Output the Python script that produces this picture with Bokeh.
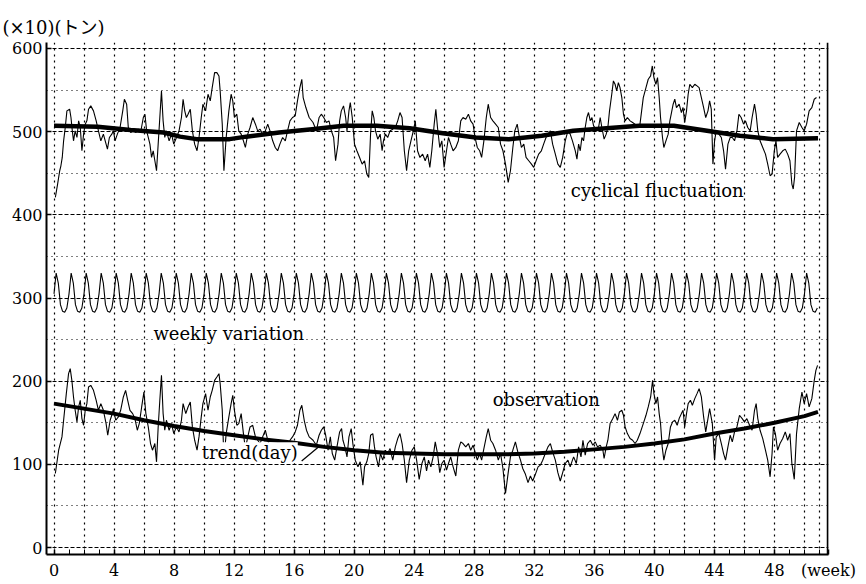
from bokeh.plotting import figure
from bokeh.models import FixedTicker, Grid, Label, Span, Arrow
from bokeh.embed import file_html
from bokeh.resources import INLINE
import numpy as np

# ---------------- data ----------------
x_ticks = [0, 4, 8, 12, 16, 20, 24, 28, 32, 36, 40, 44, 48]
x_minor = list(range(0, 52))
x_grid = list(range(0, 52, 2)) + [51]
y_ticks = [0, 100, 200, 300, 400, 500, 600]
y_half = [50, 150, 250, 350, 450, 550]
x_end = 51.6
x_unit_label = "(week)"
y_unit_label = "(×10)(トン)"

# observation (week, value)
obs_week = [0.09,0.31,0.53,0.64,0.82,0.97,1.08,1.19,1.30,1.41,1.53,1.64,1.75,1.86,1.97,2.08,2.19,2.30,2.45,2.63,2.81,2.96,3.12,3.29,3.47,3.58,3.74,3.85,3.96,4.11,4.29,4.44,4.62,4.77,4.91,5.06,5.24,5.39,5.55,5.68,5.84,5.99,6.12,6.28,6.43,6.56,6.72,6.83,6.94,7.05,7.16,7.27,7.38,7.49,7.67,7.83,7.98,8.16,8.33,8.49,8.60,8.78,8.93,9.08,9.22,9.37,9.53,9.66,9.81,9.92,10.10,10.26,10.41,10.54,10.70,10.85,10.99,11.07,11.21,11.32,11.47,11.65,11.80,11.91,12.02,12.18,12.31,12.47,12.62,12.75,12.91,13.06,13.24,13.42,13.57,13.73,13.90,14.08,14.24,14.39,14.57,14.74,14.90,15.05,15.23,15.41,15.56,15.72,15.89,16.07,16.22,16.38,16.51,16.67,16.82,17.00,
            17.26,17.48,17.66,17.81,17.97,18.10,18.26,18.41,18.54,18.70,18.85,19.03,19.16,19.25,19.38,19.52,19.65,19.80,19.91,20.07,20.25,20.40,20.58,20.69,20.84,20.97,21.09,21.24,21.35,21.46,21.62,21.75,21.90,22.08,22.23,22.39,22.57,22.74,22.90,23.05,23.19,23.34,23.49,23.67,23.85,24.00,24.16,24.33,24.51,24.67,24.82,24.95,25.11,25.26,25.40,25.55,25.70,25.84,25.99,26.15,26.28,26.43,26.59,26.77,26.94,27.10,27.25,27.43,27.61,27.76,27.92,28.05,28.20,28.36,28.49,28.64,28.80,28.93,29.09,29.24,29.42,29.60,29.75,29.91,30.08,30.26,30.41,30.57,30.74,30.90,31.08,31.23,31.41,31.58,31.74,31.89,32.07,32.25,32.40,32.56,32.73,32.91,33.07,33.22,33.40,33.57,33.73,33.89,34.06,34.24,34.39,34.54,
            34.62,34.80,34.95,35.11,35.24,35.39,35.55,35.73,35.90,36.06,36.21,36.39,36.57,36.65,36.79,36.90,37.05,37.23,37.38,37.54,37.67,37.83,37.94,38.05,38.20,38.38,38.55,38.71,38.86,39.04,39.26,39.44,39.59,39.75,39.88,39.97,40.10,40.21,40.32,40.41,40.52,40.63,40.77,40.92,41.07,41.21,41.36,41.52,41.65,41.80,41.91,42.02,42.14,42.25,42.40,42.53,42.69,42.84,42.98,43.13,43.28,43.42,43.57,43.68,43.86,44.01,44.12,44.30,44.46,44.61,44.74,44.90,45.05,45.19,45.34,45.50,45.67,45.85,46.00,46.16,46.34,46.51,46.67,46.78,46.89,47.04,47.22,47.40,47.55,47.71,47.84,47.93,48.06,48.21,48.37,48.55,48.72,48.88,49.03,49.16,49.32,49.47,49.65,49.83,49.98,50.14,50.31,50.49,50.65,50.76,50.87]
obs_value = [89,117,133,153,185,209,215,201,181,165,151,169,177,155,147,165,173,193,195,189,177,165,173,165,149,135,153,159,167,153,157,165,181,189,177,165,161,155,141,149,169,187,161,145,125,117,125,103,145,177,207,161,141,153,141,149,137,145,139,153,173,161,169,175,145,129,117,133,157,173,185,165,181,189,201,205,209,197,165,105,137,157,173,183,165,147,149,161,137,119,133,145,147,133,129,125,133,141,129,121,113,107,117,121,113,123,109,129,133,139,147,165,171,153,141,133,
             129,123,135,141,145,135,117,133,113,105,121,139,143,129,121,109,133,143,125,105,97,103,75,97,103,113,135,137,121,109,97,113,105,117,113,119,105,121,131,137,125,105,78,105,117,121,105,82,101,109,92,105,97,109,127,113,90,101,105,93,101,109,97,86,117,127,125,121,125,117,123,115,105,113,105,119,133,143,129,125,117,105,113,95,65,90,109,117,127,115,105,95,88,78,86,80,88,97,99,105,113,121,125,115,105,90,80,90,101,105,97,105,
             109,101,121,109,129,111,125,129,123,127,121,123,117,107,121,129,149,155,161,153,163,165,159,145,137,131,129,125,129,137,149,159,169,181,201,185,173,181,161,149,121,105,117,125,145,151,153,147,155,161,165,145,161,173,177,171,179,185,191,181,157,139,155,167,149,105,133,137,125,113,105,121,135,127,139,145,159,155,151,155,147,141,165,173,155,141,131,117,105,85,113,145,137,117,125,131,139,129,137,101,82,137,167,187,173,185,169,179,201,213,219]

# trend (week, value)
trend_week = [0, 2, 4, 6, 8, 10, 12, 14, 16, 18, 20, 22, 24, 26, 28, 30, 32, 34, 36, 38, 40, 42, 44, 46, 48, 50, 50.9]
trend_value = [173, 167, 161, 153, 146, 140, 135, 130, 126, 121, 117, 114, 113, 112, 112, 112, 113, 115, 118, 121, 125, 130, 137, 143, 150, 158, 163]

# weekly variation: one week of daily values (plotted around 300)
weekly_pattern = [305, 330, 318, 292, 284, 283, 288]
n_weeks = 51

# cyclical fluctuation, thin line (week, value, plotted around 500)
cyc_week = [0.09,0.24,0.38,0.46,0.55,0.64,0.75,0.86,1.04,1.13,1.22,1.30,1.41,1.53,1.64,1.75,1.86,1.97,2.08,2.19,2.30,2.45,2.63,2.81,2.96,3.12,3.29,3.47,3.56,3.69,3.85,3.96,4.07,4.22,4.40,4.58,4.69,4.84,4.95,5.11,5.28,5.46,5.61,5.77,5.95,6.06,6.17,6.28,6.39,6.50,6.61,6.72,6.83,6.94,7.05,7.16,7.27,7.38,7.49,7.67,7.83,7.98,8.16,8.33,8.49,8.60,8.71,8.82,8.93,9.08,9.22,9.37,9.53,9.66,9.81,9.92,10.10,10.26,10.41,10.54,10.70,10.85,10.99,11.07,11.21,11.32,11.47,11.65,11.80,11.91,12.02,12.18,12.31,12.47,12.62,12.75,12.91,13.06,13.24,13.42,13.57,13.73,13.90,14.08,14.24,14.39,14.57,14.74,14.90,15.05,15.23,15.41,15.56,15.72,15.89,16.07,16.22,16.38,16.51,16.60,16.78,17.00,
            17.26,17.48,17.66,17.81,17.97,18.15,18.32,18.48,18.63,18.76,18.92,19.03,19.14,19.29,19.43,19.52,19.65,19.74,19.87,20.02,20.18,20.36,20.53,20.69,20.84,20.97,21.09,21.20,21.31,21.42,21.57,21.73,21.86,21.95,22.08,22.23,22.39,22.57,22.74,22.90,23.05,23.19,23.34,23.49,23.63,23.78,23.94,24.07,24.22,24.38,24.56,24.73,24.89,25.04,25.17,25.33,25.44,25.55,25.70,25.84,25.99,26.15,26.28,26.43,26.59,26.77,26.94,27.10,27.25,27.43,27.61,27.76,27.92,28.05,28.20,28.36,28.49,28.64,28.80,28.93,29.09,29.24,29.42,29.60,29.75,29.91,30.08,30.26,30.41,30.57,30.70,30.86,31.01,31.14,31.30,31.45,31.63,31.81,31.96,32.12,32.29,32.47,32.62,32.78,32.91,33.07,33.22,33.40,33.57,33.73,33.89,34.06,34.24,34.39,34.54,
            34.73,34.84,34.95,35.06,35.17,35.28,35.39,35.50,35.61,35.73,35.84,35.95,36.12,36.28,36.39,36.50,36.65,36.79,36.90,37.01,37.16,37.27,37.38,37.49,37.60,37.71,37.83,37.94,38.05,38.20,38.38,38.55,38.71,38.86,39.04,39.15,39.26,39.44,39.59,39.75,39.86,39.97,40.10,40.21,40.32,40.41,40.54,40.63,40.77,40.92,41.03,41.14,41.25,41.36,41.47,41.65,41.80,41.91,42.02,42.14,42.25,42.36,42.53,42.69,42.84,42.98,43.13,43.28,43.42,43.57,43.68,43.79,43.90,44.01,44.12,44.30,44.46,44.61,44.74,44.90,45.05,45.19,45.34,45.50,45.63,45.78,45.94,46.07,46.22,46.38,46.51,46.67,46.78,46.89,47.04,47.22,47.40,47.55,47.71,47.84,47.99,48.10,48.21,48.37,48.55,48.72,48.88,49.03,49.16,49.25,49.34,49.47,49.65,49.83,49.98,50.14,50.31,50.49,50.65,50.80]
cyc_value = [421,437,453,459,469,489,505,525,527,517,501,489,501,493,513,505,477,497,509,513,527,531,525,513,501,489,497,485,479,493,497,501,489,497,505,525,539,533,505,499,501,499,503,499,517,521,501,493,485,469,477,465,453,485,517,549,513,493,501,489,497,485,493,501,517,539,525,517,521,527,501,485,477,493,517,533,525,545,537,553,571,571,567,549,509,453,493,525,545,537,517,521,501,497,489,481,497,505,517,509,501,503,497,501,509,501,489,481,477,485,493,489,501,513,517,519,537,553,563,541,529,517,
             511,501,517,521,517,511,513,501,493,465,485,513,525,531,517,501,525,535,517,485,477,469,461,465,449,445,497,525,517,501,491,497,477,489,497,493,501,503,505,513,523,517,477,453,477,489,501,513,477,469,473,465,473,457,477,509,527,505,481,489,457,477,493,485,477,481,489,513,517,515,521,513,509,493,481,477,469,489,517,533,517,513,509,505,485,477,461,439,453,481,501,509,493,481,485,469,465,461,457,465,473,477,485,493,497,501,485,473,461,457,469,489,501,497,489,
             477,467,485,477,493,489,505,517,523,513,517,507,501,505,517,505,491,497,505,525,545,561,557,549,559,553,541,521,513,517,513,511,509,507,509,525,541,553,563,567,579,565,557,565,541,517,493,481,489,497,513,523,533,539,529,533,523,529,511,525,545,557,553,557,555,553,541,529,517,525,537,527,461,489,501,497,493,477,455,485,493,493,489,501,521,517,509,513,505,501,517,533,521,501,489,481,473,461,447,449,477,489,469,473,477,479,473,465,437,431,445,501,511,505,501,509,525,529,539,541]

# cyclical component, thick line (week, value)
cycle_week = [0, 2.9, 5.1, 7.3, 8.4, 9.5, 11.7, 12.8, 15.0, 17.2, 19.3, 21.5, 23.7, 25.9, 28.1, 30.3, 32.5, 34.6, 36.8, 39.0, 41.3, 43.5, 45.7, 47.9, 50.9]
cycle_value = [507, 506, 502, 499, 494, 491, 491, 494, 499, 503, 507, 507, 504, 498, 493, 491, 495, 501, 504, 507, 507, 501, 495, 491, 492]

# ---------------- figure ----------------
SERIF = "DejaVu Serif, Noto Sans CJK JP"

p = figure(width=864, height=582, x_range=(-0.5, x_end), y_range=(-8.4, 607.2),
           output_backend="svg", toolbar_location=None, title=y_unit_label,
           min_border_left=46, min_border_right=36, min_border_top=42, min_border_bottom=27)
p.outline_line_color = None
p.background_fill_color = "white"
p.border_fill_color = "white"

p.title.align = "left"
p.title.offset = -44
p.title.text_font = SERIF
p.title.text_font_size = "18px"
p.title.text_font_style = "normal"
p.title.text_color = "black"
p.title.standoff = 9

xa = p.xaxis[0]
xa.ticker = FixedTicker(ticks=x_ticks + [x_end], minor_ticks=x_minor)
xa.major_label_overrides = {x_end: x_unit_label}
ya = p.yaxis[0]
ya.ticker = FixedTicker(ticks=y_ticks)
for ax in (xa, ya):
    ax.axis_line_width = 2
    ax.axis_line_color = "black"
    ax.major_tick_in = 5
    ax.major_tick_out = 0
    ax.minor_tick_in = 5
    ax.minor_tick_out = 0
    ax.major_tick_line_color = "black"
    ax.minor_tick_line_color = "black"
    ax.major_tick_line_width = 1.5
    ax.major_label_text_font = SERIF
    ax.major_label_text_font_size = "16px"
    ax.major_label_text_color = "black"
    ax.major_label_standoff = 4
ya.minor_tick_in = 0
xa.major_label_standoff = 6

p.xgrid[0].ticker = FixedTicker(ticks=x_grid)
p.xgrid[0].grid_line_color = "black"
p.xgrid[0].grid_line_dash = "2 4"
p.xgrid[0].grid_line_width = 1.2
p.ygrid[0].ticker = FixedTicker(ticks=y_ticks)
p.ygrid[0].grid_line_color = "black"
p.ygrid[0].grid_line_dash = "4 2"
p.ygrid[0].grid_line_width = 1
half_grid = Grid(dimension=1, ticker=FixedTicker(ticks=y_half),
                 grid_line_color="black", grid_line_dash="1 4", grid_line_width=1.2)
p.add_layout(half_grid)

p.add_layout(Span(location=51.55, dimension="height", line_color="black", line_width=2))

# series
weekly_value = np.tile(weekly_pattern, n_weeks)
weekly_week = np.arange(len(weekly_value)) / 7.0

p.line(obs_week, obs_value, line_color="black", line_width=1.1)
p.line(trend_week, trend_value, line_color="black", line_width=4, line_join="round")
p.line(weekly_week, weekly_value, line_color="black", line_width=1.1)
p.line(cyc_week, cyc_value, line_color="black", line_width=1.1)
p.line(cycle_week, cycle_value, line_color="black", line_width=4.5, line_join="round")

def lab(x, y, t, size="18px", align="center", bg=None):
    l = Label(x=x, y=y, text=t, text_font=SERIF, text_font_size=size,
              text_align=align, text_baseline="middle", text_color="black")
    if bg:
        l.background_fill_color = bg
    p.add_layout(l)

lab(40.19, 429.6, "cyclical fluctuation")
lab(11.64, 256.8, "weekly variation", bg="white")
lab(32.80, 177.6, "observation")
lab(13.04, 114.0, "trend(day)", bg="white")

p.add_layout(Arrow(end=None, x_start=16.5, y_start=104, x_end=17.7, y_end=122,
                   line_color="black", line_width=1.2))

open("out.html", "w").write(file_html(p, INLINE))
